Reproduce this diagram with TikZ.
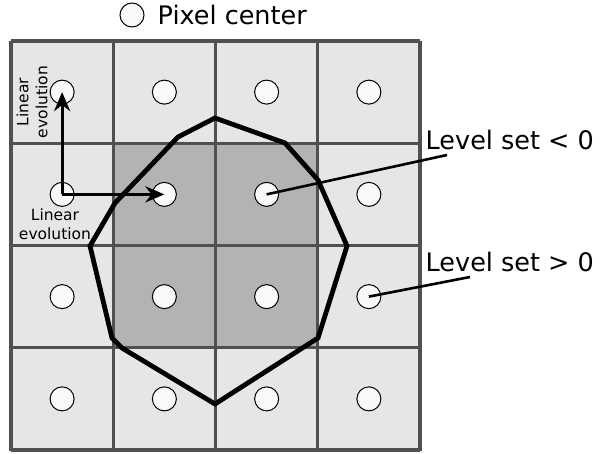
\documentclass[tikz,border=0pt]{standalone}
\usepackage{fontspec}
\setmainfont{DejaVu Sans}
\usetikzlibrary{arrows.meta}

\definecolor{cellLight}{HTML}{E6E6E6}
\definecolor{cellDark}{HTML}{B3B3B3}
\definecolor{gridGray}{HTML}{505050}
\definecolor{dotFill}{HTML}{F9F9F9}

\tikzset{
	pixel/.style={circle, draw=black, fill=dotFill, line width=1pt, minimum size=24pt, inner sep=0pt},
	evo/.style={-{Stealth[length=19pt,width=16pt]}, line width=3.2pt},
	leader/.style={line width=2.6pt},
	biglbl/.style={font=\fontsize{25.5}{30}\selectfont, inner sep=0pt},
	smalllbl/.style={font=\fontsize{15.5}{19}\selectfont, align=center, inner sep=0pt}
}

\begin{document}
\begin{tikzpicture}[x=1pt, y=-1pt]
		
		\useasboundingbox (0, 0) rectangle (600, 454);
		
		% pixel cells
		\fill [cellLight] (11, 41) rectangle (420, 451);
		\fill [cellDark] (113.25, 143.25) rectangle (317.75, 348.75);
		\foreach \i in {0,...,4} {
			\draw [gridGray, line width=3.4pt] ({11+102.25*\i}, 41) -- ({11+102.25*\i}, 451);
			\draw [gridGray, line width=3.4pt] (11, {41+102.25*\i}) -- (420, {41+102.25*\i});
		}
		
		% zero level set
		\draw [line width=4.8pt] (215, 118) -- (285, 143) -- (318, 180) -- (347, 246) -- (318, 338) -- (215, 404)
			-- (122, 348) -- (112, 338) -- (90, 246) -- (115, 203) -- (178, 137) -- cycle;
		
		% pixel centers
		\foreach \r in {1,...,4}
			\foreach \c in {1,...,4}
				\node [pixel] (p\r\c) at ({11+102.25*(\c-0.5)}, {41+102.25*(\r-0.5)}) {};
		
		\node [pixel] (key) at (132, 15) {};
		\node [biglbl, anchor=base west] (keylbl) at (157.5, 25) {Pixel center};
		
		\draw [evo] (p21.center) -- (p11.center);
		\draw [evo] (p21.center) -- (p22.center);
		\node [smalllbl, rotate=90] (evoV) at (32, 102) {Linear\\evolution};
		\node [smalllbl] (evoH) at (55, 224) {Linear\\evolution};
		
		\node [biglbl, anchor=base west] (neg) at (425.5, 150) {Level set < 0};
		\node [biglbl, anchor=base west] (pos) at (425.5, 272) {Level set > 0};
		\coordinate (negEnd) at (447, 155);
		\coordinate (posEnd) at (470, 277);
		\draw [leader] (p23.center) -- (negEnd);
		\draw [leader] (p34.center) -- (posEnd);
		
\end{tikzpicture}
\end{document}
